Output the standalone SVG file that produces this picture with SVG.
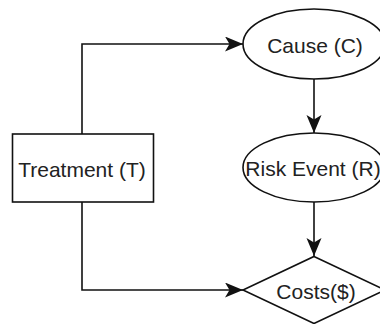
<svg xmlns="http://www.w3.org/2000/svg" width="380" height="324" viewBox="0 0 380 324">
  <style>
    .shape { fill: #ffffff; stroke: #111111; stroke-width: 1.6; }
    .edge { fill: none; stroke: #111111; stroke-width: 1.6; marker-end: url(#arrow); }
    .label { font-family: "Liberation Sans", Arial, sans-serif; font-size: 21px; fill: #222222; text-anchor: middle; dominant-baseline: central; }
  </style>
  <defs>
    <marker id="arrow" markerUnits="userSpaceOnUse" markerWidth="20" markerHeight="16" refX="18" refY="7.5" orient="auto">
      <path d="M0,0 L18,7.5 L0,15 L4.5,7.5 Z" fill="#111111"/>
    </marker>
  </defs>
  <rect width="380" height="324" fill="#ffffff"/>

  <g id="connectors">
    <path class="edge" d="M82,134 L82,44 L243,44"/>
    <path class="edge" d="M314,79 L314,133"/>
    <path class="edge" d="M314,202 L314,256"/>
    <path class="edge" d="M82,202 L82,290 L243,290"/>
  </g>

  <g id="treatment">
    <rect class="shape" x="12.5" y="134" width="141" height="68"/>
    <text class="label" x="82" y="169">Treatment (T)</text>
  </g>

  <g id="cause">
    <ellipse class="shape" cx="314" cy="44" rx="71" ry="35"/>
    <text class="label" x="315" y="45">Cause (C)</text>
  </g>

  <g id="risk-event">
    <ellipse class="shape" cx="314" cy="167.5" rx="71" ry="34.5"/>
    <text class="label" x="313" y="168">Risk Event (R)</text>
  </g>

  <g id="costs">
    <polygon class="shape" points="314,256.5 385,290 314,323.5 243,290"/>
    <text class="label" x="316" y="291">Costs($)</text>
  </g>
</svg>
